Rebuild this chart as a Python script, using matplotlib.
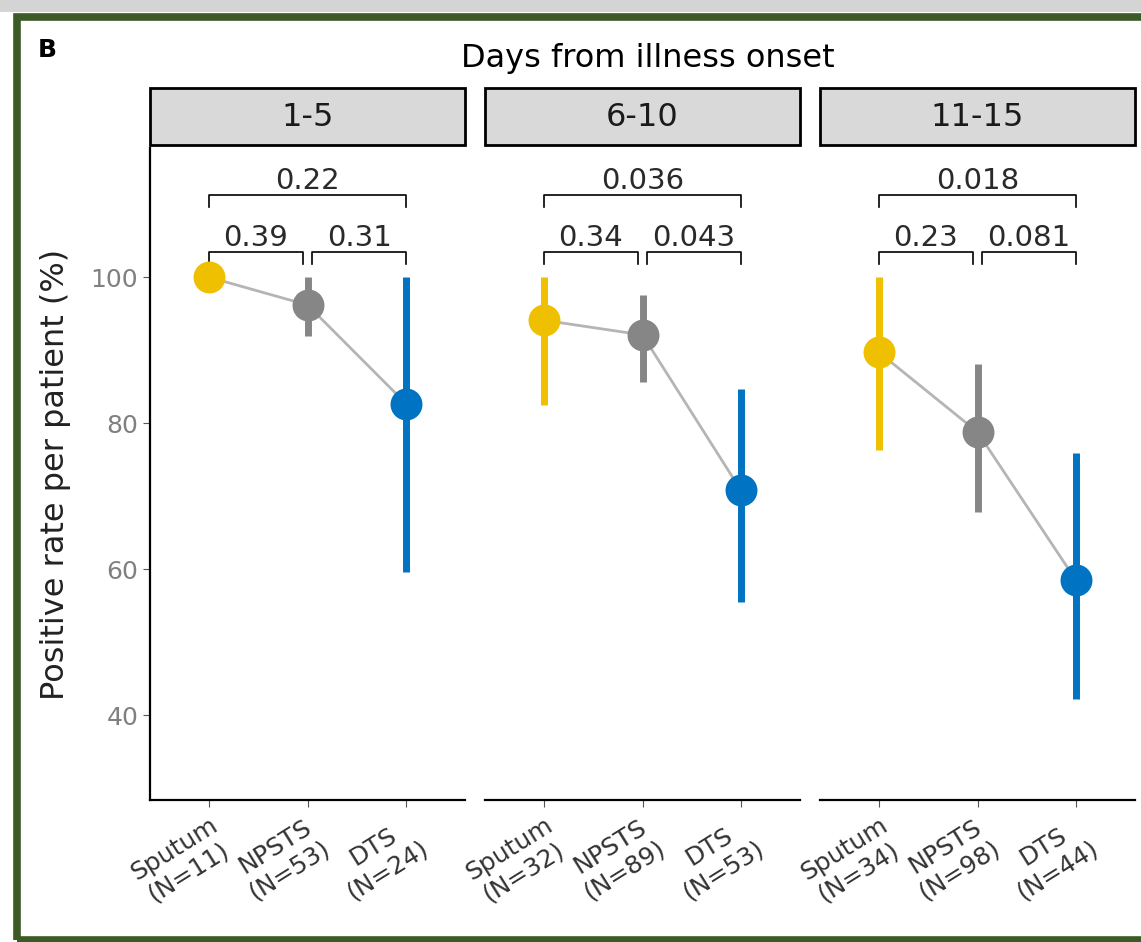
import numpy as np
import matplotlib.pyplot as plt
from matplotlib.patches import Rectangle
from matplotlib.transforms import ScaledTranslation

plt.rcParams['font.family'] = ['DejaVu Sans']

# Data
groups = ['1-5', '6-10', '11-15']
samples = ['Sputum', 'NPSTS', 'DTS']
counts = [[11, 53, 24], [32, 89, 53], [34, 98, 44]]
rates = [[100, 96.2, 82.7], [94.1, 92.1, 70.8], [89.7, 78.8, 58.5]]
lower = [[98.5, 91.9, 59.6], [82.5, 85.6, 55.5], [76.3, 67.8, 42.3]]
upper = [[100, 100, 100], [100, 97.5, 84.7], [100, 88.1, 75.9]]
p_12 = ['0.39', '0.34', '0.23']
p_23 = ['0.31', '0.043', '0.081']
p_13 = ['0.22', '0.036', '0.018']
colors = ['#EFC000', '#868686', '#0073C2']

W, H = 1141, 942
fig = plt.figure(figsize=(W / 100, H / 100), dpi=100)
fig.patch.set_facecolor('white')

# grey shadow on top and the green frame
fig.add_artist(Rectangle((0, 1 - 12 / H), 1, 12 / H, transform=fig.transFigure,
                         facecolor='#d4d4d4', edgecolor='none'))
fig.add_artist(Rectangle((17 / W, 1 - 940 / H), 1200 / W, 923 / H, transform=fig.transFigure,
                         fill=False, edgecolor='#3b5a25', lw=5.5))


def bracket(ax, x1, x2, y, text):
    ax.plot([x1, x1, x2, x2], [y - 1.6, y, y, y - 1.6], color='black', lw=1.2, clip_on=False)
    ax.text((x1 + x2) / 2, y + 0.9, text, ha='center', va='baseline', fontsize=21, color='#2a2a2a')


lefts = [150, 485, 820]
pw = 315
bottom_px, top_px = 800, 148
x = np.arange(1, 4)

for i in range(3):
    ax = fig.add_axes([lefts[i] / W, 1 - bottom_px / H, pw / W, (bottom_px - top_px) / H])
    ax.set_facecolor('none')
    ax.plot(x, rates[i], color='#b5b5b5', lw=2, zorder=1)
    for j in range(3):
        ax.vlines(x[j], lower[i][j], upper[i][j], color=colors[j], lw=5, zorder=2)
        ax.plot(x[j], rates[i][j], 'o', ms=23, color=colors[j], mec='none', zorder=3)

    bracket(ax, 1, 3, 111.2, p_13[i])
    bracket(ax, 1, 1.95, 103.4, p_12[i])
    bracket(ax, 2.05, 3, 103.4, p_23[i])

    ax.set_xlim(0.4, 3.6)
    ax.set_ylim(28.4, 117.7)
    ax.spines['top'].set_visible(False)
    ax.spines['right'].set_visible(False)
    ax.spines['bottom'].set_linewidth(1.6)
    ax.set_xticks(x)
    ax.set_xticklabels([f'{s}\n(N={n})' for s, n in zip(samples, counts[i])],
                       rotation=32, ha='right', va='top', rotation_mode='anchor',
                       fontsize=18, color='#333333', multialignment='center')
    for lab in ax.get_xticklabels():
        lab.set_transform(lab.get_transform() + ScaledTranslation(0.15, -0.03, fig.dpi_scale_trans))
    ax.tick_params(axis='x', length=5, color='#555555', pad=4)
    if i == 0:
        ax.spines['left'].set_linewidth(1.6)
        ax.set_yticks([40, 60, 80, 100])
        ax.tick_params(axis='y', length=5, color='#555555', labelsize=18, labelcolor='#808080')
        ax.set_ylabel('Positive rate per patient (%)', fontsize=23, color='#222222', labelpad=14)
    else:
        ax.spines['left'].set_visible(False)
        ax.set_yticks([])

    # facet strip
    fig.add_artist(Rectangle((lefts[i] / W, 1 - 145 / H), pw / W, 57 / H, transform=fig.transFigure,
                             facecolor='#d9d9d9', edgecolor='black', lw=2))
    fig.text((lefts[i] + pw / 2) / W, 1 - 117 / H, groups[i], ha='center', va='center',
             fontsize=23, color='#1a1a1a')

fig.text(648 / W, 1 - 58 / H, 'Days from illness onset', ha='center', va='center', fontsize=23)
fig.text(38 / W, 1 - 50 / H, 'B', ha='left', va='center', fontsize=18, fontweight='bold')

plt.savefig('out.png', dpi=100)
